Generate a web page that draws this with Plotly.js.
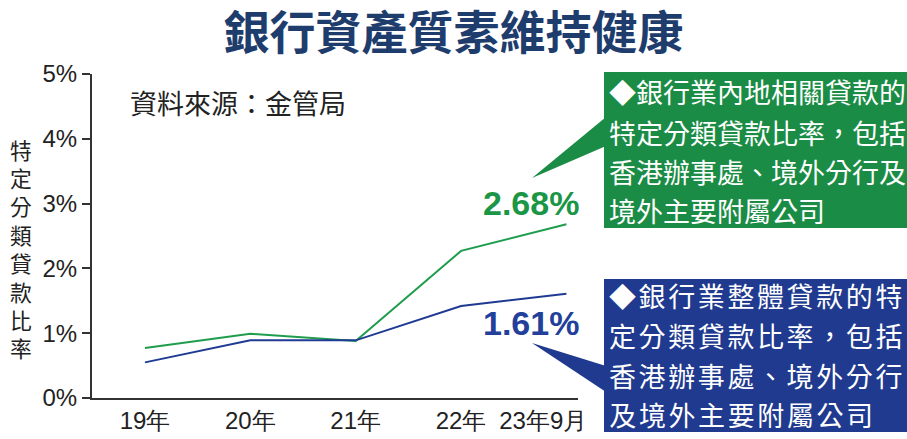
<!DOCTYPE html>
<html>
<head>
<meta charset="utf-8">
<script src="https://cdn.plot.ly/plotly-3.0.1.min.js"></script>
<style>
html,body{margin:0;padding:0;background:#fff;}
#chart{width:907px;height:439px;}
.blue-spaced text{letter-spacing:2.6px;}
</style>
</head>
<body>
<div id="chart"></div>
<script>
// ---- data ----
const categories = ['19年', '20年', '21年', '22年', '23年9月'];
const xIndex = [0, 1, 2, 3, 4];
const mainlandRatio = [0.77, 0.99, 0.88, 2.27, 2.68];   // 銀行業內地相關貸款
const overallRatio  = [0.55, 0.89, 0.89, 1.42, 1.61];   // 銀行業整體貸款
const tickPositions = [0, 1, 2, 3, 3.78];
const tickLabels = ['19年', '20年', '21年', '22年', '23年9月'];
const yTickVals = [0, 1, 2, 3, 4, 5];
const yTickText = ['0%', '1%', '2%', '3%', '4%', '5%'];
const titleText = '銀行資產質素維持健康';
const yTitleText = '特定分類貸款比率';
const sourceText = '資料來源：金管局';
const greenLines = ['◆銀行業內地相關貸款的', '特定分類貸款比率，包括', '香港辦事處、境外分行及', '境外主要附屬公司'];
const blueLines = ['◆銀行業整體貸款的特', '定分類貸款比率，包括', '香港辦事處、境外分行', '及境外主要附屬公司'];
const greenLabel = '2.68%';
const blueLabel = '1.61%';

// ---- layout helpers (pixel -> paper) ----
const L = 92, R = 578, T = 74, B = 398;
const px = x => (x - L) / (R - L);
const py = y => (B - y) / (B - T);

const GREEN_BOX = '#1b8c45';
const GREEN_LINE = '#1f9d4c';
const BLUE_BOX = '#1f3a8e';
const BLUE_LINE = '#1f3a93';
const CJK = '"Noto Sans CJK TC", "Noto Sans CJK SC", sans-serif';
const SANS = '"Liberation Sans", Arial, sans-serif';
const BLUE_SPACING = 2.6;

const traces = [
  {x: xIndex, y: mainlandRatio, type: 'scatter', mode: 'lines',
   line: {color: GREEN_LINE, width: 2}, hoverinfo: 'skip', showlegend: false},
  {x: xIndex, y: overallRatio, type: 'scatter', mode: 'lines',
   line: {color: BLUE_LINE, width: 2}, hoverinfo: 'skip', showlegend: false}
];

const annotations = [];
// source
annotations.push({xref: 'paper', yref: 'paper', x: px(128), y: py(103), xanchor: 'left', yanchor: 'middle',
  text: sourceText, showarrow: false, font: {family: CJK, size: 27, color: '#222'}});
// vertical y title
yTitleText.split('').forEach((ch, i) => {
  annotations.push({xref: 'paper', yref: 'paper', x: px(21), y: py(149 + i * 28.4), xanchor: 'center', yanchor: 'middle',
    text: ch, showarrow: false, font: {family: CJK, size: 21.8, color: '#222'}});
});
// value labels
annotations.push({xref: 'paper', yref: 'paper', x: px(531), y: py(203), xanchor: 'center', yanchor: 'middle',
  text: '<b>' + greenLabel + '</b>', showarrow: false, font: {family: SANS, size: 34, color: '#1a9646'}});
annotations.push({xref: 'paper', yref: 'paper', x: px(531), y: py(323), xanchor: 'center', yanchor: 'middle',
  text: '<b>' + blueLabel + '</b>', showarrow: false, font: {family: SANS, size: 34, color: '#22409a'}});
// box texts
const greenY = [91, 132, 171, 210];
greenLines.forEach((t, i) => {
  annotations.push({xref: 'paper', yref: 'paper', x: px(607), y: py(greenY[i]), xanchor: 'left', yanchor: 'middle',
    text: t, showarrow: false, font: {family: CJK, size: 27, color: '#fff'}});
});
const blueStart = annotations.length;
const blueY = [295, 335, 375, 414];
blueLines.forEach((t, i) => {
  const n = t.length;
  annotations.push({xref: 'paper', yref: 'paper', x: px(607 + n * BLUE_SPACING / 2), y: py(blueY[i]), xanchor: 'left', yanchor: 'middle',
    text: t, showarrow: false, font: {family: CJK, size: 27, color: '#fff'}});
});

const shapes = [
  {type: 'rect', xref: 'paper', yref: 'paper', x0: px(604), x1: px(910), y0: py(72), y1: py(228),
   fillcolor: GREEN_BOX, line: {width: 0}, layer: 'below'},
  {type: 'path', xref: 'paper', yref: 'paper',
   path: `M ${px(532)},${py(178)} L ${px(606)},${py(117)} L ${px(606)},${py(146)} Z`,
   fillcolor: GREEN_BOX, line: {width: 0}, layer: 'below'},
  {type: 'rect', xref: 'paper', yref: 'paper', x0: px(604), x1: px(910), y0: py(279), y1: py(432),
   fillcolor: BLUE_BOX, line: {width: 0}, layer: 'below'},
  {type: 'path', xref: 'paper', yref: 'paper',
   path: `M ${px(532)},${py(343)} L ${px(606)},${py(366)} L ${px(606)},${py(392)} Z`,
   fillcolor: BLUE_BOX, line: {width: 0}, layer: 'below'}
];

const layout = {
  width: 907, height: 439,
  margin: {l: L, r: 907 - R, t: T, b: 439 - B},
  paper_bgcolor: '#fff', plot_bgcolor: 'rgba(0,0,0,0)',
  title: {text: '<b>' + titleText + '</b>', x: 0.5, xanchor: 'center', y: 1 - 33 / 439, yanchor: 'middle',
    font: {family: CJK, size: 46, color: '#1e3d6d'}},
  xaxis: {range: [-0.503, 4.11], showgrid: false, zeroline: false, showline: true, linecolor: '#333', linewidth: 2,
    tickmode: 'array', tickvals: tickPositions, ticktext: tickLabels, ticks: '',
    tickfont: {family: SANS, size: 24, color: '#222'}, fixedrange: true},
  yaxis: {range: [0, 5], showgrid: false, zeroline: false, showline: true, linecolor: '#333', linewidth: 2,
    tickmode: 'array', tickvals: yTickVals, ticktext: yTickText, ticks: 'outside', ticklen: 8, tickwidth: 2, tickcolor: '#333',
    tickfont: {family: SANS, size: 24, color: '#222'}, fixedrange: true},
  shapes: shapes,
  annotations: annotations,
  showlegend: false
};

Plotly.newPlot('chart', traces, layout, {displayModeBar: false, staticPlot: true}).then(() => {
  document.querySelectorAll('g.annotation').forEach(g => {
    const idx = +g.getAttribute('data-index');
    if (idx >= blueStart) g.classList.add('blue-spaced');
  });
});
</script>
</body>
</html>
